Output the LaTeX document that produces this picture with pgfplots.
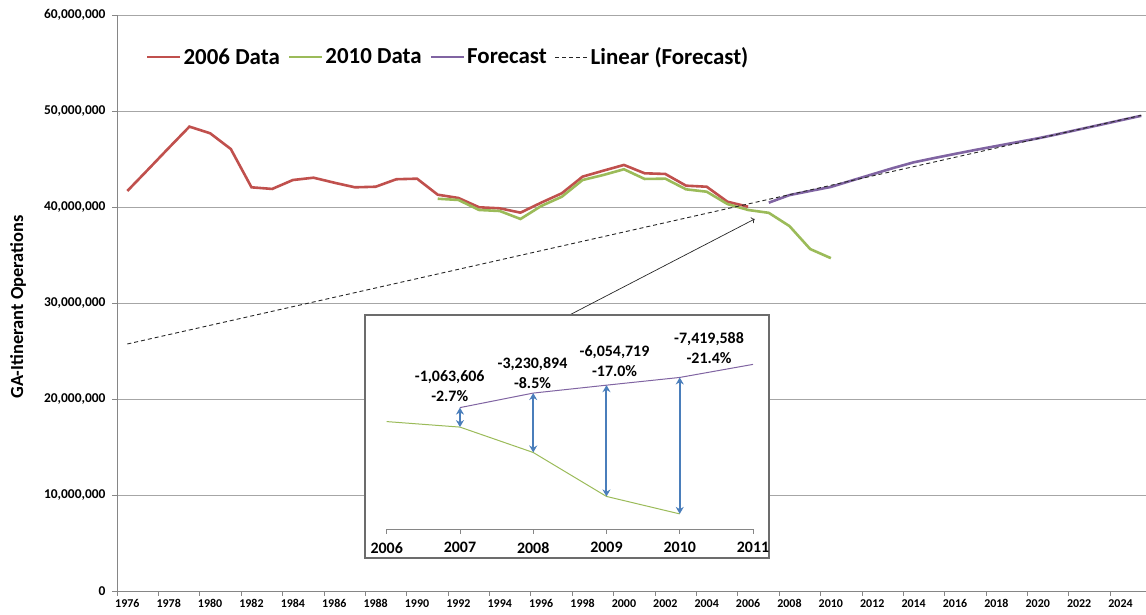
\documentclass[border=0pt]{standalone}
\usepackage{fontspec}
\setmainfont{Carlito}
\usepackage{pgfplots}
\pgfplotsset{compat=1.18}
\usetikzlibrary{arrows.meta}
\definecolor{cred}{HTML}{C0504D}
\definecolor{cgreen}{HTML}{9BBB59}
\definecolor{cpurple}{HTML}{8064A2}
\definecolor{cblue}{HTML}{4A7EBB}
\definecolor{cgrid}{HTML}{A6A6A6}
\definecolor{caxis}{HTML}{868686}
\begin{document}
\begin{tikzpicture}[x=1bp,y=1bp]
\useasboundingbox (0,0) rectangle (1146,615);
\begin{axis}[
  at={(117bp,24bp)}, anchor=south west,
  width=1029bp, height=576bp, scale only axis,
  xmin=1975.5, xmax=2025.23, ymin=0, ymax=60000000,
  axis x line*=bottom, axis y line*=left,
  axis line style={caxis, line width=0.8bp},
  ymajorgrids, grid style={cgrid, line width=0.8bp},
  ytick={0,10000000,20000000,30000000,40000000,50000000,60000000},
  xtick={1975.5,1977.5,...,2023.5},
  xticklabels={1976,1978,1980,1982,1984,1986,1988,1990,1992,1994,1996,1998,2000,2002,2004,2006,2008,2010,2012,2014,2016,2018,2020,2022,2024},
  xticklabel style={font=\bfseries\fontsize{12}{12}\selectfont, xshift=10.34bp},
  tick style={caxis, line width=0.8bp},
  tick align=outside, major tick length=5bp,
  scaled y ticks=false,
  /pgf/number format/assume math mode=true,
  yticklabel style={font=\bfseries\fontsize{13.5}{13.5}\selectfont, xshift=-3bp, /pgf/number format/.cd, fixed, precision=0, 1000 sep={,}},
  ylabel={GA-Itinerant Operations},
  ylabel style={at={(axis description cs:-0.0962,0.493)}, anchor=center, font=\bfseries\fontsize{18.5}{18.5}\selectfont},
  legend style={at={(0.028,0.927)}, anchor=west, draw=none, fill=none, legend columns=4,
    font=\bfseries\fontsize{23}{23}\selectfont, inner sep=0pt,
    nodes={inner sep=2bp},
    /tikz/every even column/.append style={column sep=6bp}},
  legend cell align=left,
  legend image code/.code={\draw[#1] (0bp,0bp) -- (33bp,0bp);},
]
\addplot[cred, line width=2.6bp] coordinates {
(1976,41670000) (1977,43900000) (1978,46150000) (1979,48370000) (1980,47680000)
(1981,46040000) (1982,42050000) (1983,41880000) (1984,42810000) (1985,43050000)
(1986,42530000) (1987,42050000) (1988,42110000) (1989,42890000) (1990,42950000)
(1991,41280000) (1992,40940000) (1993,39970000) (1994,39860000) (1995,39410000)
(1996,40450000) (1997,41430000) (1998,43160000) (1999,43780000) (2000,44380000)
(2001,43510000) (2002,43440000) (2003,42220000) (2004,42110000) (2005,40550000)
(2006,40030000)};
\addlegendentry{2006 Data}
\addplot[cgreen, line width=2.6bp] coordinates {
(1991,40860000) (1992,40730000) (1993,39690000) (1994,39580000) (1995,38750000)
(1996,40100000) (1997,41070000) (1998,42810000) (1999,43330000) (2000,43930000)
(2001,42920000) (2002,42950000) (2003,41840000) (2004,41590000) (2005,40310000)
(2006,39690000) (2007,39390000) (2008,38010000) (2009,35620000) (2010,34670000)};
\addlegendentry{2010 Data}
\addplot[cpurple, line width=2.6bp] coordinates {
(2007,40450000) (2008,41240000) (2009,41670000) (2010,42090000) (2011,42750000)
(2012,43400000) (2013,44050000) (2014,44650000) (2015,45100000) (2016,45530000)
(2017,45950000) (2018,46350000) (2019,46750000) (2020,47150000) (2021,47600000)
(2022,48080000) (2023,48550000) (2024,49030000) (2025,49500000)};
\addlegendentry{Forecast}
\addplot[black!85, line width=0.9bp, dash pattern=on 4bp off 3bp] coordinates {
(1976,25730000) (2025,49550000)};
\addlegendentry{Linear (Forecast)}
\draw[->, black!85, line width=0.7bp] (axis cs:1997.37,28750000) -- (axis cs:2006.32,38750000);
\end{axis}
\draw[fill=white, draw=gray!85!black, line width=1.8bp] (365,57) rectangle (769,300);
\begin{axis}[
  at={(386.7bp,86bp)}, anchor=south west,
  width=366.3bp, height=211.5bp, scale only axis,
  xmin=2006, xmax=2011, ymin=33850000, ymax=45350000,
  clip=false,
  axis x line=bottom, axis y line=none,
  axis line style={-, caxis, line width=0.8bp},
  xtick={2006,2007,2008,2009,2010,2011},
  xticklabels={2006,2007,2008,2009,2010,2011},
  xticklabel style={font=\bfseries\fontsize{16}{16}\selectfont, yshift=-5bp},
  tick style={caxis, line width=0.8bp},
  tick align=outside, major tick length=5bp,
]
\addplot[cgreen, line width=1bp] coordinates {
(2006,39690000) (2007,39390000) (2008,38010000) (2009,35620000) (2010,34670000)};
\addplot[cpurple, line width=1bp] coordinates {
(2007,40450000) (2008,41240000) (2009,41670000) (2010,42090000) (2011,42800000)};
\addplot[cblue, line width=2bp, {Stealth[length=7bp,width=8bp]}-{Stealth[length=7bp,width=8bp]}] coordinates {(2007,39390000) (2007,40450000)};
\addplot[cblue, line width=2bp, {Stealth[length=7bp,width=8bp]}-{Stealth[length=7bp,width=8bp]}] coordinates {(2008,38010000) (2008,41240000)};
\addplot[cblue, line width=2bp, {Stealth[length=7bp,width=8bp]}-{Stealth[length=7bp,width=8bp]}] coordinates {(2009,35620000) (2009,41670000)};
\addplot[cblue, line width=2bp, {Stealth[length=7bp,width=8bp]}-{Stealth[length=7bp,width=8bp]}] coordinates {(2010,34670000) (2010,42090000)};
\node[font=\bfseries\fontsize{16}{20}\selectfont, align=center] at (axis cs:2006.86,41630000) {-1,063,606\\-2.7\%};
\node[font=\bfseries\fontsize{16}{20}\selectfont, align=center] at (axis cs:2007.99,42320000) {-3,230,894\\-8.5\%};
\node[font=\bfseries\fontsize{16}{20}\selectfont, align=center] at (axis cs:2009.11,43000000) {-6,054,719\\-17.0\%};
\node[font=\bfseries\fontsize{16}{20}\selectfont, align=center] at (axis cs:2010.40,43700000) {-7,419,588\\-21.4\%};
\end{axis}
\end{tikzpicture}
\end{document}
